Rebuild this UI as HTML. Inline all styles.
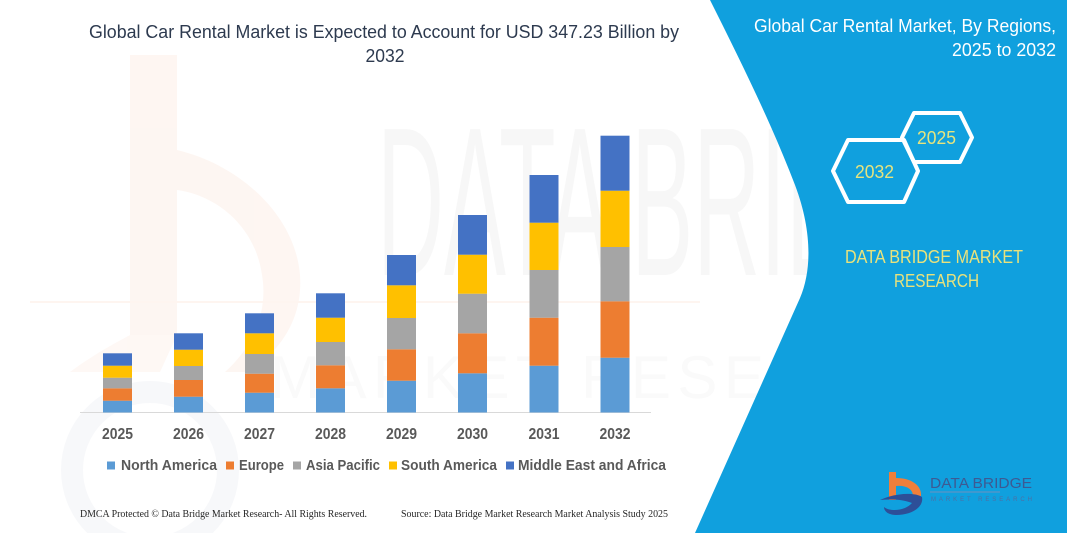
<!DOCTYPE html>
<html>
<head>
<meta charset="utf-8">
<style>
  html, body { margin:0; padding:0; background:#ffffff; }
  body { width:1067px; height:533px; overflow:hidden; }
  svg { display:block; }
</style>
</head>
<body>
<svg width="1067" height="533" viewBox="0 0 1067 533" xmlns="http://www.w3.org/2000/svg">
  <rect x="0" y="0" width="1067" height="533" fill="#ffffff"/>

  <!-- faint watermark: orange "b" -->
  <g opacity="0.4">
    <rect x="130" y="55" width="47" height="280" fill="#fce9df"/>
    <path d="M177,150 C240,165 295,215 300,275 C303,320 280,350 250,372 L225,372 C255,345 268,310 262,275 C255,225 215,195 177,190 Z" fill="#fce9df"/>
    <path d="M70,372 C100,350 125,338 130,335 L177,335 L160,372 Z" fill="#fdeee6"/>
  </g>
  <!-- faint watermark: blue-gray ring -->
  <circle cx="150" cy="470" r="78" fill="none" stroke="#f1f3f7" stroke-width="22" opacity="0.6"/>

  <!-- faint watermark text -->
  <text x="377" y="275" font-family="Liberation Sans, sans-serif" font-size="212" fill="#f7f7f7" textLength="610" lengthAdjust="spacingAndGlyphs">DATA BRIDGE</text>
  <line x1="30" y1="302" x2="700" y2="302" stroke="#fef5f0" stroke-width="2"/>
  <text x="270" y="398" font-family="Liberation Sans, sans-serif" font-size="60" fill="#fafafa" textLength="690" lengthAdjust="spacing">MARKET RESEARCH</text>

  <!-- blue panel -->
  <path d="M710,0 C740,60 770,120 795,185 C812,230 812,270 800,298 L695,533 L1067,533 L1067,0 Z" fill="#10a0de"/>

  <!-- main title -->
  <text x="89" y="38" font-family="Liberation Sans, sans-serif" font-size="18" fill="#2d3a4f" textLength="590" lengthAdjust="spacingAndGlyphs">Global Car Rental Market is Expected to Account for USD 347.23 Billion by</text>
  <text x="385" y="62" text-anchor="middle" font-family="Liberation Sans, sans-serif" font-size="18" fill="#2d3a4f" textLength="39" lengthAdjust="spacingAndGlyphs">2032</text>

  <!-- axis line -->
  <line x1="80" y1="412.5" x2="651" y2="412.5" stroke="#d9d9d9" stroke-width="1"/>

  <!-- bars -->
  <g>
    <!-- 2025 -->
    <rect x="103" y="400.7" width="29" height="11.8" fill="#5b9bd5"/>
    <rect x="103" y="388.3" width="29" height="12.4" fill="#ed7d31"/>
    <rect x="103" y="377.7" width="29" height="10.6" fill="#a5a5a5"/>
    <rect x="103" y="365.7" width="29" height="12" fill="#ffc000"/>
    <rect x="103" y="353.3" width="29" height="12.4" fill="#4472c4"/>
    <!-- 2026 -->
    <rect x="174" y="396.7" width="29" height="15.8" fill="#5b9bd5"/>
    <rect x="174" y="380" width="29" height="16.7" fill="#ed7d31"/>
    <rect x="174" y="366" width="29" height="14" fill="#a5a5a5"/>
    <rect x="174" y="349.7" width="29" height="16.3" fill="#ffc000"/>
    <rect x="174" y="333.3" width="29" height="16.4" fill="#4472c4"/>
    <!-- 2027 -->
    <rect x="245" y="392.7" width="29" height="19.8" fill="#5b9bd5"/>
    <rect x="245" y="373.7" width="29" height="19" fill="#ed7d31"/>
    <rect x="245" y="354" width="29" height="19.7" fill="#a5a5a5"/>
    <rect x="245" y="333.3" width="29" height="20.7" fill="#ffc000"/>
    <rect x="245" y="313.3" width="29" height="20" fill="#4472c4"/>
    <!-- 2028 -->
    <rect x="316" y="388.3" width="29" height="24.2" fill="#5b9bd5"/>
    <rect x="316" y="365.3" width="29" height="23" fill="#ed7d31"/>
    <rect x="316" y="342" width="29" height="23.3" fill="#a5a5a5"/>
    <rect x="316" y="317.7" width="29" height="24.3" fill="#ffc000"/>
    <rect x="316" y="293.3" width="29" height="24.4" fill="#4472c4"/>
    <!-- 2029 -->
    <rect x="387" y="380.7" width="29" height="31.8" fill="#5b9bd5"/>
    <rect x="387" y="349.3" width="29" height="31.4" fill="#ed7d31"/>
    <rect x="387" y="318" width="29" height="31.3" fill="#a5a5a5"/>
    <rect x="387" y="285.3" width="29" height="32.7" fill="#ffc000"/>
    <rect x="387" y="255" width="29" height="30.3" fill="#4472c4"/>
    <!-- 2030 -->
    <rect x="458" y="373.3" width="29" height="39.2" fill="#5b9bd5"/>
    <rect x="458" y="333.3" width="29" height="40" fill="#ed7d31"/>
    <rect x="458" y="293.7" width="29" height="39.6" fill="#a5a5a5"/>
    <rect x="458" y="254.7" width="29" height="39" fill="#ffc000"/>
    <rect x="458" y="215" width="29" height="39.7" fill="#4472c4"/>
    <!-- 2031 -->
    <rect x="529.5" y="365.7" width="29" height="46.8" fill="#5b9bd5"/>
    <rect x="529.5" y="317.7" width="29" height="48" fill="#ed7d31"/>
    <rect x="529.5" y="270" width="29" height="47.7" fill="#a5a5a5"/>
    <rect x="529.5" y="222.7" width="29" height="47.3" fill="#ffc000"/>
    <rect x="529.5" y="175" width="29" height="47.7" fill="#4472c4"/>
    <!-- 2032 -->
    <rect x="600.5" y="357.7" width="29" height="54.8" fill="#5b9bd5"/>
    <rect x="600.5" y="301.3" width="29" height="56.4" fill="#ed7d31"/>
    <rect x="600.5" y="247" width="29" height="54.3" fill="#a5a5a5"/>
    <rect x="600.5" y="190.7" width="29" height="56.3" fill="#ffc000"/>
    <rect x="600.5" y="135.7" width="29" height="55" fill="#4472c4"/>
  </g>

  <!-- year labels -->
  <g font-family="Liberation Sans, sans-serif" font-size="16" font-weight="bold" fill="#595959" text-anchor="middle">
    <text x="117.5" y="439" textLength="31" lengthAdjust="spacingAndGlyphs">2025</text>
    <text x="188.5" y="439" textLength="31" lengthAdjust="spacingAndGlyphs">2026</text>
    <text x="259.5" y="439" textLength="31" lengthAdjust="spacingAndGlyphs">2027</text>
    <text x="330.5" y="439" textLength="31" lengthAdjust="spacingAndGlyphs">2028</text>
    <text x="401.5" y="439" textLength="31" lengthAdjust="spacingAndGlyphs">2029</text>
    <text x="472.5" y="439" textLength="31" lengthAdjust="spacingAndGlyphs">2030</text>
    <text x="544" y="439" textLength="31" lengthAdjust="spacingAndGlyphs">2031</text>
    <text x="615" y="439" textLength="31" lengthAdjust="spacingAndGlyphs">2032</text>
  </g>

  <!-- legend -->
  <g font-family="Liberation Sans, sans-serif" font-size="14.5" font-weight="bold" fill="#595959">
    <rect x="107" y="461.5" width="8" height="8" fill="#5b9bd5"/>
    <text x="121" y="470" textLength="96" lengthAdjust="spacingAndGlyphs">North America</text>
    <rect x="226" y="461.5" width="8" height="8" fill="#ed7d31"/>
    <text x="239" y="470" textLength="45" lengthAdjust="spacingAndGlyphs">Europe</text>
    <rect x="293" y="461.5" width="8" height="8" fill="#a5a5a5"/>
    <text x="306" y="470" textLength="74" lengthAdjust="spacingAndGlyphs">Asia Pacific</text>
    <rect x="389" y="461.5" width="8" height="8" fill="#ffc000"/>
    <text x="401" y="470" textLength="96" lengthAdjust="spacingAndGlyphs">South America</text>
    <rect x="506" y="461.5" width="8" height="8" fill="#4472c4"/>
    <text x="518" y="470" textLength="148" lengthAdjust="spacingAndGlyphs">Middle East and Africa</text>
  </g>

  <!-- footer -->
  <g font-family="Liberation Serif, serif" font-size="10.5" fill="#262626">
    <text x="80" y="517" textLength="287" lengthAdjust="spacingAndGlyphs">DMCA Protected © Data Bridge Market Research-  All Rights Reserved.</text>
    <text x="401" y="517" textLength="267" lengthAdjust="spacingAndGlyphs">Source: Data Bridge Market Research  Market Analysis Study 2025</text>
  </g>

  <!-- right title -->
  <g font-family="Liberation Sans, sans-serif" font-size="18" fill="#ffffff" text-anchor="end">
    <text x="1056" y="32" textLength="302" lengthAdjust="spacingAndGlyphs">Global Car Rental Market, By Regions,</text>
    <text x="1056" y="56" textLength="104" lengthAdjust="spacingAndGlyphs">2025 to 2032</text>
  </g>

  <!-- hexagons -->
  <polygon points="902,137.5 914,113 960,113 972,137.5 960,162 914,162" fill="none" stroke="#ffffff" stroke-width="4" stroke-linejoin="round"/>
  <polygon points="833,171 848,140 904,140 918,171 904,202 848,202" fill="none" stroke="#ffffff" stroke-width="4" stroke-linejoin="round"/>
  <g font-family="Liberation Sans, sans-serif" font-size="18" fill="#e6e47e" text-anchor="middle">
    <text x="936.5" y="144" textLength="39" lengthAdjust="spacingAndGlyphs">2025</text>
    <text x="874.5" y="178" textLength="39" lengthAdjust="spacingAndGlyphs">2032</text>
  </g>

  <!-- DATA BRIDGE MARKET RESEARCH -->
  <g font-family="Liberation Sans, sans-serif" font-size="18" fill="#e9e27c" text-anchor="middle">
    <text x="934" y="263" textLength="178" lengthAdjust="spacingAndGlyphs">DATA BRIDGE MARKET</text>
    <text x="936.5" y="287" textLength="85" lengthAdjust="spacingAndGlyphs">RESEARCH</text>
  </g>

  <!-- logo bottom right -->
  <g>
    <rect x="889" y="472" width="7" height="28" fill="#f07f3a"/>
    <path d="M896,478 C912,478 922,486 921,496 L913,496 C913,489 906,485 896,486 Z" fill="#f07f3a"/>
    <path d="M880,500 C895,493 915,492 922,497 C924,507 912,515 896,515 C888,515 884,511 884,507 C890,512 905,511 912,503 C902,499 890,499 880,500 Z" fill="#2d4f98"/>
    <text x="930" y="488" font-family="Liberation Sans Narrow, Liberation Sans, sans-serif" font-size="15" fill="#3d5a93" textLength="102" lengthAdjust="spacingAndGlyphs">DATA BRIDGE</text>
    <line x1="930" y1="492" x2="1000" y2="492" stroke="#6f8fbf" stroke-width="1"/>
    <text x="931" y="501" font-family="Liberation Sans, sans-serif" font-size="6" fill="#4f6ea3" textLength="101" lengthAdjust="spacing">MARKET RESEARCH</text>
  </g>
</svg>
</body>
</html>
